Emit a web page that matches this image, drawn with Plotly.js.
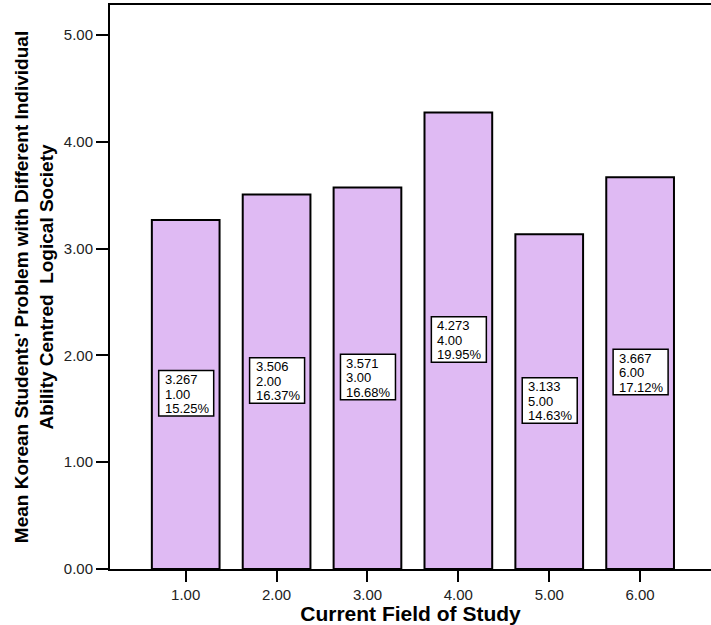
<!DOCTYPE html>
<html>
<head>
<meta charset="utf-8">
<script src="https://cdn.plot.ly/plotly-3.0.1.min.js"></script>
<style>html,body{margin:0;padding:0;background:#fff;}#chart{width:711px;height:625px;}</style>
</head>
<body>
<div id="chart"></div>
<script>
const categories = [1, 2, 3, 4, 5, 6];
const means = [3.267, 3.506, 3.571, 4.273, 3.133, 3.667];
const percents = ["15.25%", "16.37%", "16.68%", "19.95%", "14.63%", "17.12%"];

const FONT = 'Liberation Sans, Arial, sans-serif';

// label boxes: white rectangles anchored at half bar height, sized in pixels
const shapes = categories.map((c, i) => ({
  type: 'rect', layer: 'above',
  xref: 'x', yref: 'y',
  xsizemode: 'pixel', xanchor: c, x0: -27, x1: 28,
  ysizemode: 'pixel', yanchor: means[i] / 2, y0: -21.5, y1: 24,
  fillcolor: '#fff', line: {color: '#000', width: 1.5}
}));

const annotations = [];
categories.forEach((c, i) => {
  const lines = [means[i].toFixed(3), c.toFixed(2), percents[i]];
  const shifts = [15, 0.5, -14];
  lines.forEach((t, k) => {
    annotations.push({
      x: c, y: means[i] / 2, xref: 'x', yref: 'y',
      text: t, showarrow: false, xanchor: 'left', yanchor: 'middle',
      xshift: -23, yshift: shifts[k],
      font: {family: FONT, size: 13, color: '#000'}
    });
  });
});

const trace = {
  type: 'bar', x: categories, y: means,
  marker: {color: '#dfbaf3', line: {color: '#000', width: 2}},
  hoverinfo: 'none'
};

const layout = {
  width: 711, height: 625,
  margin: {l: 110, r: 0, t: 5, b: 56},
  paper_bgcolor: '#fff', plot_bgcolor: '#fff',
  showlegend: false,
  bargap: 0.255,
  font: {family: FONT, color: '#000'},
  xaxis: {
    range: [0.167, 6.78], tickvals: categories, ticktext: categories.map(c => c.toFixed(2)),
    ticks: 'outside', ticklen: 11, tickwidth: 2, tickcolor: '#000',
    showline: true, linecolor: '#000', linewidth: 2, mirror: true,
    showgrid: false, zeroline: false,
    tickfont: {family: FONT, size: 15, color: '#222'},
    title: {text: '<b>Current Field of Study</b>', font: {family: FONT, size: 21, color: '#000'}, standoff: 2}
  },
  yaxis: {
    range: [0, 5.28], dtick: 1, tick0: 0, tickformat: '.2f',
    ticks: 'outside', ticklen: 12, tickwidth: 2, tickcolor: '#000',
    showline: true, linecolor: '#000', linewidth: 2,
    showgrid: false, zeroline: false,
    tickfont: {family: FONT, size: 15, color: '#222'},
    title: {text: "<b>Mean Korean Students' Problem with Different Individual<br>Ability Centred  Logical Society</b>", font: {family: FONT, size: 19, color: '#000'}, standoff: 5}
  },
  shapes: shapes,
  annotations: annotations
};

Plotly.newPlot('chart', [trace], layout, {displayModeBar: false, staticPlot: true});
</script>
</body>
</html>
